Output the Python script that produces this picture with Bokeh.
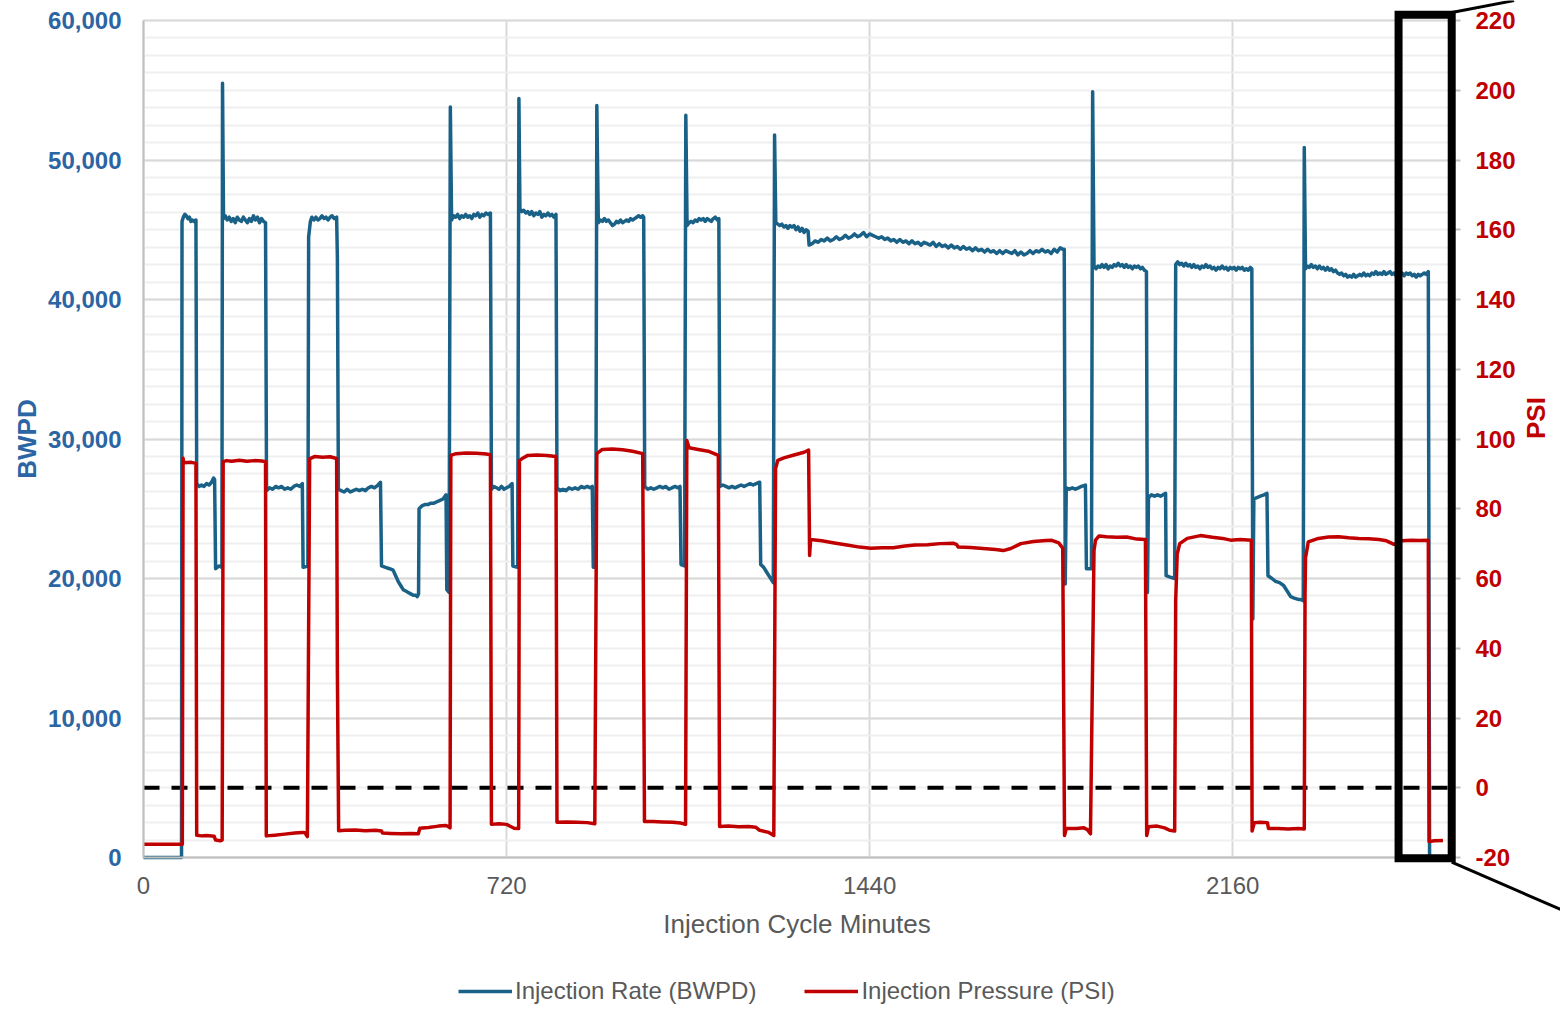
import math
from bokeh.plotting import figure
from bokeh.models import (Range1d, LinearAxis, SingleIntervalTicker, FixedTicker, Grid,
                          PolyAnnotation, Arrow, Legend, LegendItem, NumeralTickFormatter,
                          BoxAnnotation)
from bokeh.embed import file_html
from bokeh.resources import INLINE

# ---------------- data ----------------
rate_minutes = [
    0, 75.4,
    76.4, 79, 82, 85, 88, 91, 94, 97, 100, 104,
    105.5, 110, 115, 120, 125, 130, 135, 139, 141, 143, 150, 155.5,
    156.7,
    158.7, 162, 166, 170, 174, 178, 182, 186, 190, 194, 198, 202, 206, 210, 214, 218, 222, 226, 230, 234, 238, 242,
    244, 250, 256, 262, 268, 274, 280, 286, 292, 298, 304, 310, 315, 316.5, 326,
    327.5, 331, 334, 338, 342, 346, 350, 354, 358, 362, 366, 370, 374, 378, 383, 384.5,
    386.5, 392, 398, 404, 410, 416, 422, 428, 434, 440, 446, 452, 458, 465, 470,
    472, 480, 488, 495, 500, 505, 510, 515, 520, 525, 530, 535, 540, 543, 545.5,
    546.5, 552, 558, 564, 570, 576, 582, 588, 594, 600, 601.5, 606,
    608.5,
    611, 615, 619, 623, 627, 631, 635, 639, 643, 647, 651, 655, 659, 663, 667, 671, 675, 679, 683, 688,
    690, 695, 700, 705, 710, 715, 720, 725, 731, 732.5, 742,
    744.5,
    746.5, 750, 754, 758, 762, 766, 770, 774, 778, 782, 786, 790, 794, 798, 802, 806, 810, 814, 818,
    820, 826, 832, 838, 844, 850, 856, 862, 868, 874, 880, 886, 890, 892, 897,
    899,
    902, 906, 910, 914, 918, 922, 926, 930, 934, 938, 942, 946, 950, 954, 958, 962, 966, 970, 974, 978, 982, 986, 990, 992,
    994, 1000, 1006, 1012, 1018, 1024, 1030, 1036, 1042, 1048, 1054, 1060, 1064, 1066, 1073,
    1075.5,
    1078, 1082, 1086, 1090, 1094, 1098, 1102, 1106, 1110, 1114, 1118, 1122, 1126, 1130, 1134, 1138, 1141,
    1143, 1149, 1155, 1161, 1167, 1173, 1179, 1185, 1191, 1197, 1203, 1209, 1215, 1222, 1224, 1230, 1235, 1242, 1249,
    1251.5,
    1254, 1258, 1262, 1266, 1270, 1274, 1278, 1282, 1286, 1290, 1294, 1298, 1302, 1306, 1310, 1314, 1318,
    1320, 1326, 1332, 1338, 1344, 1350, 1356, 1362, 1368, 1374,
    1380, 1386, 1392, 1398, 1404, 1410, 1416, 1422, 1428, 1434,
    1440, 1446, 1452, 1458, 1464, 1470, 1476, 1482, 1488, 1494,
    1500, 1506, 1512, 1518, 1524, 1530, 1536, 1542, 1548, 1554,
    1560, 1566, 1572, 1578, 1584, 1590, 1596, 1602, 1608, 1614,
    1620, 1626, 1632, 1638, 1644, 1650, 1656, 1662, 1668, 1674,
    1680, 1686, 1692, 1698, 1704, 1710, 1716, 1722, 1728, 1734,
    1740, 1746, 1752, 1758, 1764, 1770, 1776, 1782, 1788, 1794,
    1800, 1806, 1812, 1818, 1823, 1826,
    1828, 1830, 1836, 1842, 1848, 1854, 1860, 1868, 1870, 1880,
    1882.3,
    1885, 1889, 1893, 1897, 1901, 1905, 1909, 1913, 1917, 1921,
    1925, 1929, 1933, 1937, 1941, 1945, 1949, 1953, 1957, 1961,
    1965, 1969, 1973, 1977, 1981, 1985, 1989,
    1991, 1993, 1999, 2005, 2011, 2017, 2022, 2027, 2028, 2036, 2045,
    2047, 2051, 2055, 2059, 2063, 2067, 2071, 2075, 2079, 2083,
    2087, 2091, 2095, 2099, 2103, 2107, 2111, 2115, 2119, 2123,
    2127, 2131, 2135, 2139, 2143, 2147, 2151, 2155, 2159, 2163,
    2167, 2171, 2175, 2179, 2183, 2187, 2191, 2195, 2198,
    2200, 2202, 2208, 2215, 2222, 2228, 2230, 2238, 2245, 2253, 2261, 2268, 2275, 2282, 2290, 2295, 2300,
    2302,
    2304.5,
    2308, 2312, 2316, 2320, 2324, 2328, 2332, 2336, 2340, 2344,
    2348, 2352, 2356, 2360, 2364, 2368, 2372, 2376, 2380, 2384,
    2388, 2392, 2396, 2400, 2404, 2408, 2412, 2416, 2420, 2424,
    2428, 2432, 2436, 2440, 2444, 2448, 2452, 2456, 2460, 2464,
    2468, 2472, 2476, 2480, 2484, 2488, 2492, 2496, 2500, 2504,
    2508, 2512, 2516, 2520, 2524, 2528, 2532, 2536, 2540, 2544,
    2548,
    2550.5, 2552,
]
rate_bwpd = [
    0, 0,
    45600, 45900, 46100, 46000, 45800, 45900, 45600, 45700, 45600, 45700,
    26800, 26600, 26700, 26600, 26800, 26700, 26900, 27200, 27100, 20700, 20900, 20800,
    55500,
    45800, 46000, 45700, 45900, 45600, 45800, 45500, 45900, 45700, 45600, 45900, 45700, 45500, 45800, 45600, 46000, 45700, 45900, 45500, 45800, 45600, 45500,
    26300, 26500, 26400, 26600, 26500, 26600, 26400, 26500, 26400, 26600, 26700, 26600, 26800, 20800, 20900,
    44500, 45600, 45900, 45700, 45900, 45700, 45800, 46000, 45800, 45900, 45700, 45900, 46000, 45800, 45900, 43000,
    26400, 26300, 26200, 26400, 26200, 26300, 26400, 26300, 26400, 26300, 26500, 26600, 26500, 26700, 26900,
    20900, 20800, 20700, 20600, 20200, 19800, 19500, 19200, 19100, 19000, 18900, 18800, 18800, 18700, 18900,
    25000, 25200, 25300, 25300, 25400, 25400, 25500, 25600, 25700, 26000, 19200, 19000,
    53800,
    45700, 46000, 45900, 46100, 45800, 46000, 45900, 46100, 45900, 46000, 45800, 46100, 46000, 46200, 45900, 46100, 46000, 46200, 46100, 46200,
    26400, 26600, 26500, 26400, 26600, 26400, 26500, 26600, 26800, 20900, 20800,
    54400,
    46500, 46300, 46400, 46200, 46300, 46100, 46300, 46000, 46200, 46100, 46300, 45900, 46100, 46000, 46200, 46000, 46100, 45900, 46100,
    26500, 26300, 26400, 26300, 26500, 26400, 26500, 26400, 26600, 26500, 26600, 26500, 26600, 20800, 20800,
    53900,
    45500, 45700, 45600, 45800, 45600, 45700, 45500, 45300, 45400, 45600, 45500, 45700, 45500, 45600, 45700, 45600, 45800, 45700, 45800, 45900, 46000, 45900, 46000, 45900,
    26600, 26400, 26500, 26400, 26500, 26600, 26500, 26600, 26400, 26500, 26600, 26500, 26600, 21000, 20900,
    53200,
    45300, 45500, 45600, 45500, 45700, 45600, 45800, 45700, 45800, 45600, 45800, 45700, 45600, 45800, 45900, 45700, 45800,
    26600, 26700, 26600, 26500, 26600, 26500, 26600, 26700, 26600, 26700, 26800, 26700, 26800, 26900, 21000, 20800, 20500, 20100, 19700,
    51800,
    45500, 45400, 45300, 45400, 45200, 45300, 45100, 45300, 45200, 45300, 45000, 45200, 44900, 45100, 44800, 45000, 44900,
    43900, 44000, 44200, 44100, 44300, 44200, 44400, 44200, 44300, 44500,
    44300, 44400, 44600, 44400, 44500, 44700, 44500, 44600, 44800, 44500,
    44700, 44600, 44500, 44400, 44500, 44300, 44400, 44200, 44300, 44100,
    44300, 44100, 44200, 44000, 44200, 44000, 44100, 43900, 44100, 44000,
    43900, 44100, 43800, 44000, 43800, 43900, 43700, 43900, 43700, 43800,
    43600, 43800, 43600, 43700, 43500, 43700, 43500, 43600, 43400, 43600,
    43400, 43500, 43300, 43500, 43300, 43500, 43400, 43300, 43500, 43200,
    43400, 43200, 43300, 43500, 43300, 43500, 43400, 43600, 43400, 43500,
    43300, 43600, 43400, 43700, 43600, 43600,
    19600, 26500, 26400, 26500, 26400, 26500, 26600, 26700, 20700, 20700,
    54900,
    42400, 42200, 42400, 42300, 42500, 42300, 42500, 42200, 42400, 42300,
    42500, 42400, 42600, 42400, 42500, 42300, 42500, 42300, 42400, 42200,
    42400, 42300, 42400, 42200, 42300, 42100, 42000,
    19000, 25800, 26000, 25900, 26000, 25900, 26000, 26100, 20200, 20100, 20000,
    42500, 42700, 42500, 42600, 42400, 42600, 42400, 42500, 42300, 42500,
    42300, 42400, 42200, 42400, 42300, 42500, 42300, 42400, 42200, 42300,
    42100, 42300, 42200, 42400, 42200, 42300, 42100, 42300, 42200, 42300,
    42100, 42300, 42200, 42300, 42100, 42200, 42100, 42300, 42200,
    17100, 25700, 25800, 25900, 26000, 26100, 20200, 20000, 19800, 19700, 19500, 19100, 18700, 18600, 18500, 18500, 18400,
    50900,
    42200,
    42400, 42300, 42500, 42300, 42400, 42200, 42400, 42200, 42300, 42100,
    42300, 42100, 42200, 42000, 42100, 41900, 41800, 41900, 41700, 41800,
    41600, 41700, 41600, 41800, 41600, 41700, 41800, 41700, 41900, 41700,
    41800, 41700, 41900, 41800, 42000, 41800, 41900, 41800, 42000, 41800,
    41900, 42000, 41800, 41900, 41700, 41900, 41800, 41900, 41700, 41900,
    41800, 41900, 41700, 41800, 41600, 41800, 41700, 41800, 41900, 41800,
    42000,
    0, 0,
]

pressure_minutes = [
    0, 77, 78.5, 80, 95, 104,
    105.5, 115, 125, 140, 143, 152, 156,
    158, 165, 175, 190, 205, 220, 235, 242,
    243.5, 260, 280, 300, 315, 320, 325,
    329.5, 340, 355, 370, 383, 384.5,
    387, 400, 420, 440, 460, 472, 474, 490, 510, 530, 545,
    548, 565, 585, 600, 605, 608,
    609.5, 620, 640, 660, 680, 688,
    690, 705, 720, 735, 744,
    745.5, 752, 762, 780, 800, 818,
    820, 840, 860, 880, 895,
    899, 910, 930, 950, 970, 990,
    993.5, 1010, 1030, 1050, 1065, 1075,
    1077.5, 1082, 1100, 1120, 1140,
    1142.5, 1160, 1180, 1200, 1214, 1222, 1240, 1250,
    1253.5, 1258, 1270, 1290, 1310, 1319,
    1321, 1323, 1345, 1370, 1395, 1420, 1442, 1465, 1487, 1510, 1530, 1555,
    1580, 1606, 1612, 1616, 1640, 1665, 1690, 1705, 1720, 1740, 1765, 1790,
    1800, 1815, 1823,
    1826.5, 1830, 1850, 1865, 1872, 1878,
    1883.5, 1885, 1888, 1895, 1910, 1930, 1950, 1970, 1987,
    1989.5, 1993, 2010, 2025, 2035, 2045,
    2047, 2050, 2055, 2070, 2096, 2120, 2140, 2156, 2175, 2197,
    2198.5, 2203, 2215, 2229, 2231, 2250, 2270, 2290, 2302,
    2303.5, 2304.5, 2310, 2330, 2350, 2370, 2390, 2410, 2430, 2450, 2465, 2480,
    2495, 2515, 2530, 2548,
    2549.5, 2560, 2577,
]
pressure_psi = [
    -16.2, -16.2, 94.5, 93.2, 93.3, 93.0,
    -13.6, -13.8, -13.7, -13.9, -15.0, -15.2, -15.0,
    93.5, 93.8, 93.6, 93.9, 93.6, 93.8, 93.7, 93.5,
    -13.8, -13.6, -13.3, -13.0, -12.8, -12.9, -14.0,
    94.3, 95.0, 94.8, 94.9, 94.4, 33.0,
    -12.3, -12.2, -12.1, -12.3, -12.2, -12.4, -13.0, -13.1, -13.2, -13.1, -13.2,
    -11.6, -11.4, -11.0, -10.8, -11.2, -11.5,
    95.3, 95.8, 96.0, 95.9, 95.7, 95.5,
    -10.5, -10.3, -10.5, -11.6, -11.7,
    93.8, 94.5, 95.3, 95.4, 95.3, 95.0,
    -9.9, -9.8, -9.9, -10.0, -10.3,
    95.8, 97.0, 97.1, 96.9, 96.5, 95.8,
    -9.7, -9.7, -9.8, -9.9, -10.1, -10.5,
    99.6, 97.5, 97.0, 96.5, 95.3,
    -11.1, -11.0, -11.2, -11.1, -11.3, -12.2, -12.8, -13.7,
    91.5, 93.9, 94.6, 95.4, 96.2, 96.8,
    66.6, 71.2, 70.8, 70.2, 69.6, 69.0, 68.7, 68.8, 68.8, 69.3, 69.6, 69.7,
    70.0, 70.1, 69.8, 69.0, 68.9, 68.6, 68.3, 68.0, 68.6, 70.0, 70.6, 70.9,
    71.0, 70.2, 68.7,
    -13.7, -11.7, -11.7, -11.5, -12.0, -13.2,
    50.0, 68.0, 71.0, 72.2, 72.0, 71.8, 71.9, 71.3, 71.2,
    -13.7, -11.2, -11.0, -11.5, -12.2, -12.4,
    53.7, 67.0, 70.0, 71.5, 72.3, 71.8, 71.5, 71.0, 71.2, 71.0,
    -12.4, -10.0, -9.9, -10.0, -11.7, -11.7, -11.8, -11.7, -11.8,
    55.0, 66.0, 70.5, 71.5, 71.9, 72.0, 71.7, 71.5, 71.4, 71.2, 70.8, 69.8,
    70.8, 71.0, 70.9, 71.0,
    -15.4, -15.2, -15.1,
]
assert len(rate_minutes) == len(rate_bwpd)
assert len(pressure_minutes) == len(pressure_psi)

x_ticks = [0, 720, 1440, 2160]
x_max = 2592
bwpd_bounds = (0, 60000)
psi_bounds = (-20, 220)
zero_line_x = [0, x_max]
zero_line_psi = [0, 0]
callout_box_x = [2489, 2594.4, 2594.4, 2489]
callout_box_bwpd = [60420, 60420, -60, -60]
callout_top_line = (2594.4, 222.3, 2718, 225.7)
callout_bottom_line = (2594.4, -21.3, 2815, -35.2)

BLUE_LINE = "#1A6187"
BLUE_TEXT = "#2B65A3"
RED = "#C00000"
GRAY_TEXT = "#595959"
FONT = "Liberation Sans"

# ---- canvas geometry: the frame covers the whole canvas; axes sit at fixed locations ----
W, H = 1560, 1016
plot_left, plot_right = 143, 1450      # canvas px of minute 0 / x_max
plot_top, plot_bottom = 20, 857        # canvas px of the top / bottom of the value axes
px_per_min = (plot_right - plot_left) / x_max
bwpd_per_px = (bwpd_bounds[1] - bwpd_bounds[0]) / (plot_bottom - plot_top)
psi_per_px = (psi_bounds[1] - psi_bounds[0]) / (plot_bottom - plot_top)
x_range = Range1d(-plot_left / px_per_min, (W - plot_left) / px_per_min)
y_range = Range1d(bwpd_bounds[0] - (H - plot_bottom) * bwpd_per_px,
                  bwpd_bounds[1] + plot_top * bwpd_per_px)
psi_range = Range1d(psi_bounds[0] - (H - plot_bottom) * psi_per_px,
                    psi_bounds[1] + plot_top * psi_per_px)

p = figure(width=W, height=H, output_backend="svg", toolbar_location=None, title=None,
           x_range=x_range, y_range=y_range, min_border=0,
           x_axis_location=None, y_axis_location=None)
for g in p.grid:
    g.visible = False
p.outline_line_color = None
p.background_fill_color = "white"
p.border_fill_color = "white"
p.extra_y_ranges = {"psi": psi_range}

# x axis
xa = LinearAxis(ticker=FixedTicker(ticks=x_ticks), fixed_location=bwpd_bounds[0],
                bounds=(0, x_max))
xa.axis_label = "Injection Cycle Minutes"
xa.axis_label_text_font = FONT
xa.axis_label_text_font_size = "26px"
xa.axis_label_text_font_style = "normal"
xa.axis_label_text_color = GRAY_TEXT
xa.axis_label_standoff = 12
xa.major_label_text_font = FONT
xa.major_label_text_font_size = "24px"
xa.major_label_text_color = GRAY_TEXT
xa.major_label_standoff = 13
xa.major_tick_line_color = None
xa.minor_tick_line_color = None
xa.axis_line_color = "#BFBFBF"
xa.axis_line_width = 2
p.add_layout(xa, "below")

# left axis
ya = LinearAxis(ticker=SingleIntervalTicker(interval=10000, num_minor_ticks=8),
                fixed_location=0, bounds=bwpd_bounds)
ya.formatter = NumeralTickFormatter(format="0,0")
ya.axis_label = "BWPD"
ya.axis_label_text_font = FONT
ya.axis_label_text_font_size = "26px"
ya.axis_label_text_font_style = "bold"
ya.axis_label_text_color = BLUE_TEXT
ya.axis_label_standoff = 3
ya.major_label_text_font = FONT
ya.major_label_text_font_size = "24px"
ya.major_label_text_font_style = "bold"
ya.major_label_text_color = BLUE_TEXT
ya.major_label_standoff = 16
ya.major_tick_line_color = None
ya.minor_tick_line_color = None
ya.axis_line_color = "#BFBFBF"
ya.axis_line_width = 2
p.add_layout(ya, "left")

# right axis
ra = LinearAxis(y_range_name="psi", ticker=SingleIntervalTicker(interval=20),
                fixed_location=x_max, bounds=psi_bounds)
ra.formatter = NumeralTickFormatter(format="0")
ra.axis_label = "PSI"
ra.axis_label_text_font = FONT
ra.axis_label_text_font_size = "26px"
ra.axis_label_text_font_style = "bold"
ra.axis_label_text_color = RED
ra.axis_label_standoff = 17
ra.major_label_text_font = FONT
ra.major_label_text_font_size = "24px"
ra.major_label_text_font_style = "bold"
ra.major_label_text_color = RED
ra.major_label_standoff = 15
ra.major_tick_out = 10
ra.major_tick_in = 0
ra.major_tick_line_color = "#BFBFBF"
ra.major_tick_line_width = 2
ra.minor_tick_line_color = None
ra.axis_line_color = None
try:
    ra.axis_label_orientation = math.pi / 2
except Exception:
    pass
p.add_layout(ra, "right")

# grids
xgrid = Grid(dimension=0, ticker=FixedTicker(ticks=x_ticks), bounds=(0, x_max),
             grid_line_color="#D9D9D9", grid_line_width=2)
ygrid = Grid(dimension=1, ticker=ya.ticker, bounds=bwpd_bounds,
             grid_line_color="#D9D9D9", grid_line_width=2,
             minor_grid_line_color="#EFEFEF", minor_grid_line_width=2)
has_cross = hasattr(xgrid, "cross_bounds")
if has_cross:
    xgrid.cross_bounds = bwpd_bounds
    ygrid.cross_bounds = (0, x_max)
p.add_layout(xgrid)
p.add_layout(ygrid)
if not has_cross:
    big = 1e7
    for box in (dict(left=-big, right=0, bottom=-big, top=big),
                dict(left=x_max, right=big, bottom=-big, top=big),
                dict(left=-big, right=big, bottom=bwpd_bounds[1], top=big),
                dict(left=-big, right=big, bottom=-big, top=bwpd_bounds[0])):
        p.add_layout(BoxAnnotation(fill_color="white", fill_alpha=1, line_alpha=0,
                                   level="underlay", **box))

# zero-pressure reference line
p.line(zero_line_x, zero_line_psi, y_range_name="psi", line_color="black",
       line_width=4, line_dash="16 12")

r_rate = p.line(rate_minutes, rate_bwpd, line_color=BLUE_LINE, line_width=3.5,
                line_join="round")
r_psi = p.line(pressure_minutes, pressure_psi, y_range_name="psi", line_color=RED,
               line_width=3.5, line_join="round")

# callout box and lines
p.add_layout(PolyAnnotation(xs=callout_box_x, ys=callout_box_bwpd,
                            fill_alpha=0, line_color="black", line_alpha=1,
                            line_width=8, line_join="miter"))
for (x0, y0, x1, y1) in (callout_top_line, callout_bottom_line):
    p.add_layout(Arrow(end=None, x_start=x0, y_start=y0, x_end=x1, y_end=y1,
                       y_range_name="psi", line_color="black", line_width=3))

legend = Legend(items=[LegendItem(label="Injection Rate (BWPD)", renderers=[r_rate]),
                       LegendItem(label="Injection Pressure (PSI)", renderers=[r_psi])],
                orientation="horizontal", location=(458, 11),
                label_text_font=FONT, label_text_font_size="24px",
                label_text_color=GRAY_TEXT, glyph_width=54, glyph_height=20,
                label_standoff=3, spacing=48, padding=0, margin=0,
                border_line_color=None, background_fill_alpha=0)
p.add_layout(legend)

open("out.html", "w").write(file_html(p, INLINE))
